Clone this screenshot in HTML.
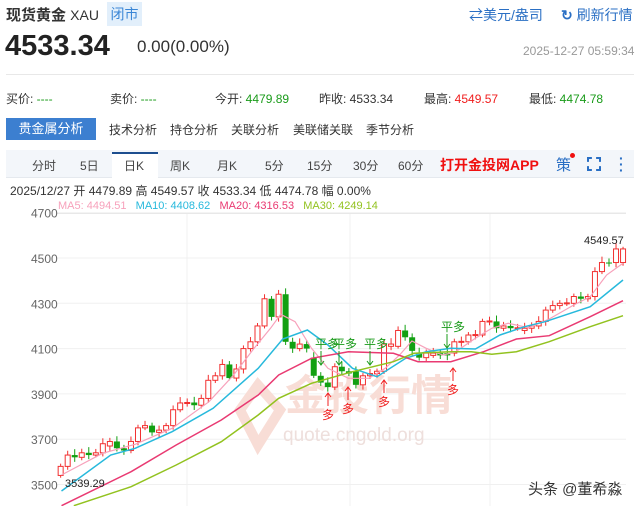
<!DOCTYPE html>
<html><head><meta charset="utf-8">
<style>
*{margin:0;padding:0;box-sizing:border-box}
body{width:640px;height:506px;background:#fff;font-family:"Liberation Sans","Noto Sans CJK SC",sans-serif;position:relative;overflow:hidden;color:#333}
.a{position:absolute;white-space:nowrap}
.g{color:#1a9b1a}.r{color:#f01c1c}
</style></head><body>
<div class="a" style="left:6px;top:4px;font-size:15px;font-weight:bold;color:#333">现货黄金 <span style="font-weight:normal;font-size:14px">XAU</span></div>
<div class="a" style="left:107px;top:2px;width:35px;height:24px;background:#e2effb;color:#3a86d6;font-size:14px;line-height:24px;text-align:center">闭市</div>
<div class="a" style="left:469px;top:5px;font-size:14px;color:#2a6fc4">⇄美元/盎司</div>
<div class="a" style="left:561px;top:5px;font-size:14px;color:#2a6fc4"><span style="font-weight:bold">↻</span> 刷新行情</div>
<div class="a" style="left:5px;top:30px;font-size:29px;font-weight:bold;color:#222">4533.34</div>
<div class="a" style="left:137px;top:37px;font-size:17px;color:#333">0.00(0.00%)</div>
<div class="a" style="left:523px;top:44px;font-size:12px;color:#999">2025-12-27 05:59:34</div>
<div class="a" style="left:6px;top:74px;width:628px;height:1px;background:#e8e8e8"></div>
<div class="a" style="left:6px;top:90px;font-size:12px">买价: <span class="g">----</span></div>
<div class="a" style="left:110px;top:90px;font-size:12px">卖价: <span class="g">----</span></div>
<div class="a" style="left:215px;top:90px;font-size:12px">今开: <span class="g">4479.89</span></div>
<div class="a" style="left:319px;top:90px;font-size:12px">昨收: 4533.34</div>
<div class="a" style="left:424px;top:90px;font-size:12px">最高: <span class="r">4549.57</span></div>
<div class="a" style="left:529px;top:90px;font-size:12px">最低: <span class="g">4474.78</span></div>
<div class="a" style="left:6px;top:118px;width:90px;height:22px;background:#3c7fd0;color:#fff;font-size:13px;line-height:22px;text-align:center">贵金属分析</div>
<div class="a" style="left:109px;top:121px;font-size:12px">技术分析</div>
<div class="a" style="left:170px;top:121px;font-size:12px">持仓分析</div>
<div class="a" style="left:231px;top:121px;font-size:12px">关联分析</div>
<div class="a" style="left:293px;top:121px;font-size:12px">美联储关联</div>
<div class="a" style="left:366px;top:121px;font-size:12px">季节分析</div>
<div class="a" style="left:6px;top:150px;width:628px;height:28px;background:#f3f6fa;border-bottom:1px solid #e5e9ee"></div>
<div class="a" style="left:112px;top:152px;width:46px;height:27px;background:#fff;border-top:2px solid #1d4e8f"></div>
<div class="a" style="top:157px;left:32px;font-size:12px;color:#444">分时</div>
<div class="a" style="top:157px;left:80px;font-size:12px;color:#444">5日</div>
<div class="a" style="top:157px;left:124px;font-size:12px;color:#444">日K</div>
<div class="a" style="top:157px;left:170px;font-size:12px;color:#444">周K</div>
<div class="a" style="top:157px;left:217px;font-size:12px;color:#444">月K</div>
<div class="a" style="top:157px;left:265px;font-size:12px;color:#444">5分</div>
<div class="a" style="top:157px;left:307px;font-size:12px;color:#444">15分</div>
<div class="a" style="top:157px;left:353px;font-size:12px;color:#444">30分</div>
<div class="a" style="top:157px;left:398px;font-size:12px;color:#444">60分</div>
<div class="a" style="top:155px;left:440px;font-size:14px;font-weight:bold;color:#f01010">打开金投网APP</div>
<div class="a" style="top:154px;left:556px;font-size:15px;color:#2a6fc4">策</div>
<div class="a" style="top:153px;left:570px;width:5px;height:5px;border-radius:50%;background:#f01010"></div>
<div class="a" style="top:157px;left:587px;width:14px;height:14px;border:2px solid #2a6fc4;clip-path:polygon(0 0,35% 0,35% 100%,65% 100%,65% 0,100% 0,100% 35%,0 35%,0 65%,100% 65%,100% 100%,0 100%)"></div>
<div class="a" style="top:155px;left:619px;font-size:14px;font-weight:bold;color:#2a6fc4;line-height:6px">·<br>·<br>·</div>
<div class="a" style="top:182px;left:10px;font-size:12px;color:#333">2025/12/27 开 4479.89 高 4549.57 收 4533.34 低 4474.78 幅 0.00%</div>
<div class="a" style="top:200px;left:58px;font-size:11px"><span style="color:#f7a1bb">MA5: 4494.51</span>&nbsp;&nbsp;&nbsp;<span style="color:#27b9dc">MA10: 4408.62</span>&nbsp;&nbsp;&nbsp;<span style="color:#e93a72">MA20: 4316.53</span>&nbsp;&nbsp;&nbsp;<span style="color:#92c21f">MA30: 4249.14</span></div>
<div class="a" style="top:213px;left:56px;width:570px;height:1px;background:#e5e5e5"></div>
<svg id="c" class="a" style="left:0;top:0" width="640" height="506"></svg>
<div class="a" style="left:528px;top:478px;font-size:15px;color:#333">头条 @董希淼</div>
<script>
var s='';
var Y=p=>258+(4500-p)*0.2265;
[4700,4500,4300,4100,3900,3700,3500].forEach(v=>{var y=Y(v);s+=`<line x1="56" x2="626" y1="${y}" y2="${y}" stroke="#f0f0f0"/><text x="31" y="${y+5}" font-size="12" fill="#666" font-family="Liberation Sans">${v}</text>`;});
[187,350,490].forEach(x=>s+=`<line x1="${x}" x2="${x}" y1="214" y2="506" stroke="#f0f0f0"/>`);
s+=`<text x="285" y="410" font-size="42" fill="#f8ddd6" font-family="Noto Sans CJK SC" font-weight="bold">金投行情</text><text x="283" y="441" font-size="19" fill="#eedfdc" font-family="Liberation Sans">quote.cngold.org</text><polygon points="240,410 258,385 280,410 258,445" fill="none" stroke="#f8ddd6" stroke-width="10"/>`;
var d=[[3540,3580],[3580,3630],[3630,3620],[3620,3640],[3640,3630],[3630,3640],[3640,3680],[3670,3690],[3690,3660],[3660,3650],[3650,3690],[3690,3750],[3750,3760],[3760,3730],[3730,3740],[3740,3760],[3760,3830],[3830,3860],[3860,3862],[3862,3850],[3850,3880],[3880,3960],[3960,3980],[3980,4030],[4030,3970],[3970,4010],[4010,4100],[4100,4130],[4130,4200],[4200,4320],[4320,4240],[4240,4340],[4340,4130],[4130,4100],[4100,4120],[4120,4100],[4060,3980],[3980,3950],[3950,3930],[3930,4020],[4020,4000],[4000,3990],[4000,3940],[3940,3980],[3980,3990],[3990,4000],[4000,4120],[4110,4120],[4110,4180],[4180,4150],[4150,4090],[4080,4060],[4060,4080],[4070,4080],[4080,4070],[4080,4070],[4080,4130],[4128,4132],[4130,4160],[4158,4162],[4160,4220],[4218,4222],[4220,4190],[4190,4200],[4200,4190],[4190,4192],[4180,4190],[4190,4200],[4200,4220],[4220,4270],[4270,4290],[4290,4300],[4298,4302],[4300,4330],[4330,4320],[4320,4330],[4330,4440],[4440,4480],[4480,4478],[4480,4540],[4480,4540]];
d.forEach((c,i)=>{var x=148/2.44+i*7.03,o=c[0],cl=c[1],up=cl>=o,col=up?'#f23030':'#12a012';var hi=Math.max(o,cl)+12+(i*7%15),lo=Math.min(o,cl)-10-(i*5%12);if(i==80)hi=4549.57;
s+=`<line x1="${x}" x2="${x}" y1="${Y(hi)}" y2="${Y(lo)}" stroke="${col}"/>`;var t=Y(Math.max(o,cl)),h=Math.max(1,Y(Math.min(o,cl))-t);
s+=up?`<rect x="${x-2.5}" y="${t}" width="5" height="${h}" fill="#fff" stroke="${col}"/>`:`<rect x="${x-3}" y="${t}" width="6" height="${h}" fill="${col}"/>`;});
function L(p,c,w){s+=`<polyline fill="none" stroke="${c}" stroke-width="${w}" points="${p.map(q=>(q[0]/2.44).toFixed(1)+','+(215+q[1]/3).toFixed(1)).join(' ')}"/>`;}
L([[150,780],[250,715],[330,688],[420,640],[510,560],[570,480],[620,400],[660,340],[685,298],[720,320],[760,400],[800,460],[850,490],[900,490],[940,460],[975,420],[1005,378],[1040,400],[1080,420],[1110,412],[1160,370],[1200,340],[1240,325],[1290,338],[1340,312],[1400,270],[1440,245],[1480,180],[1520,145]],'#f7a1bb',1.2);
L([[150,828],[270,720],[330,700],[420,650],[520,580],[630,460],[690,372],[750,345],[800,390],[860,460],[920,485],[990,430],[1040,410],[1100,400],[1160,402],[1220,360],[1280,335],[1330,320],[1440,275],[1520,195]],'#27b9dc',1.5);
L([[150,872],[320,770],[430,690],[540,615],[630,540],[680,480],[760,430],[850,410],[960,415],[1020,440],[1100,440],[1180,410],[1260,372],[1340,362],[1440,305],[1520,257]],'#e93a72',1.5);
L([[180,872],[320,815],[430,750],[540,680],[630,600],[680,550],[760,505],[860,470],[960,440],[1010,415],[1100,410],[1150,410],[1200,418],[1260,410],[1340,380],[1440,335],[1520,302]],'#92c21f',1.5);
var F='font-family="Noto Sans CJK SC" font-size="12"';
[[315,348],[333,348],[364,348],[441,331]].forEach(a=>{s+=`<text x="${a[0]}" y="${a[1]}" ${F} fill="#1a9b1a">平多</text><line x1="${a[0]+6}" x2="${a[0]+6}" y1="${a[1]+3}" y2="${a[1]+17}" stroke="#1a9b1a"/><path d="M${a[0]+3} ${a[1]+13}l3 4 3-4" fill="none" stroke="#1a9b1a"/>`;});
[[328,393],[348,387],[384,380],[453,368]].forEach(a=>{s+=`<line x1="${a[0]}" x2="${a[0]}" y1="${a[1]}" y2="${a[1]+13}" stroke="#f02020"/><path d="M${a[0]-3} ${a[1]+4}l3-4 3 4" fill="none" stroke="#f02020"/><text x="${a[0]-6}" y="${a[1]+26}" ${F} fill="#f02020">多</text>`;});
s+=`<text x="584" y="244" font-size="11" fill="#222" font-family="Liberation Sans">4549.57</text><text x="65" y="487" font-size="11" fill="#222" font-family="Liberation Sans">3539.29</text>`;
document.getElementById('c').innerHTML=s;
</script>
</body></html>
